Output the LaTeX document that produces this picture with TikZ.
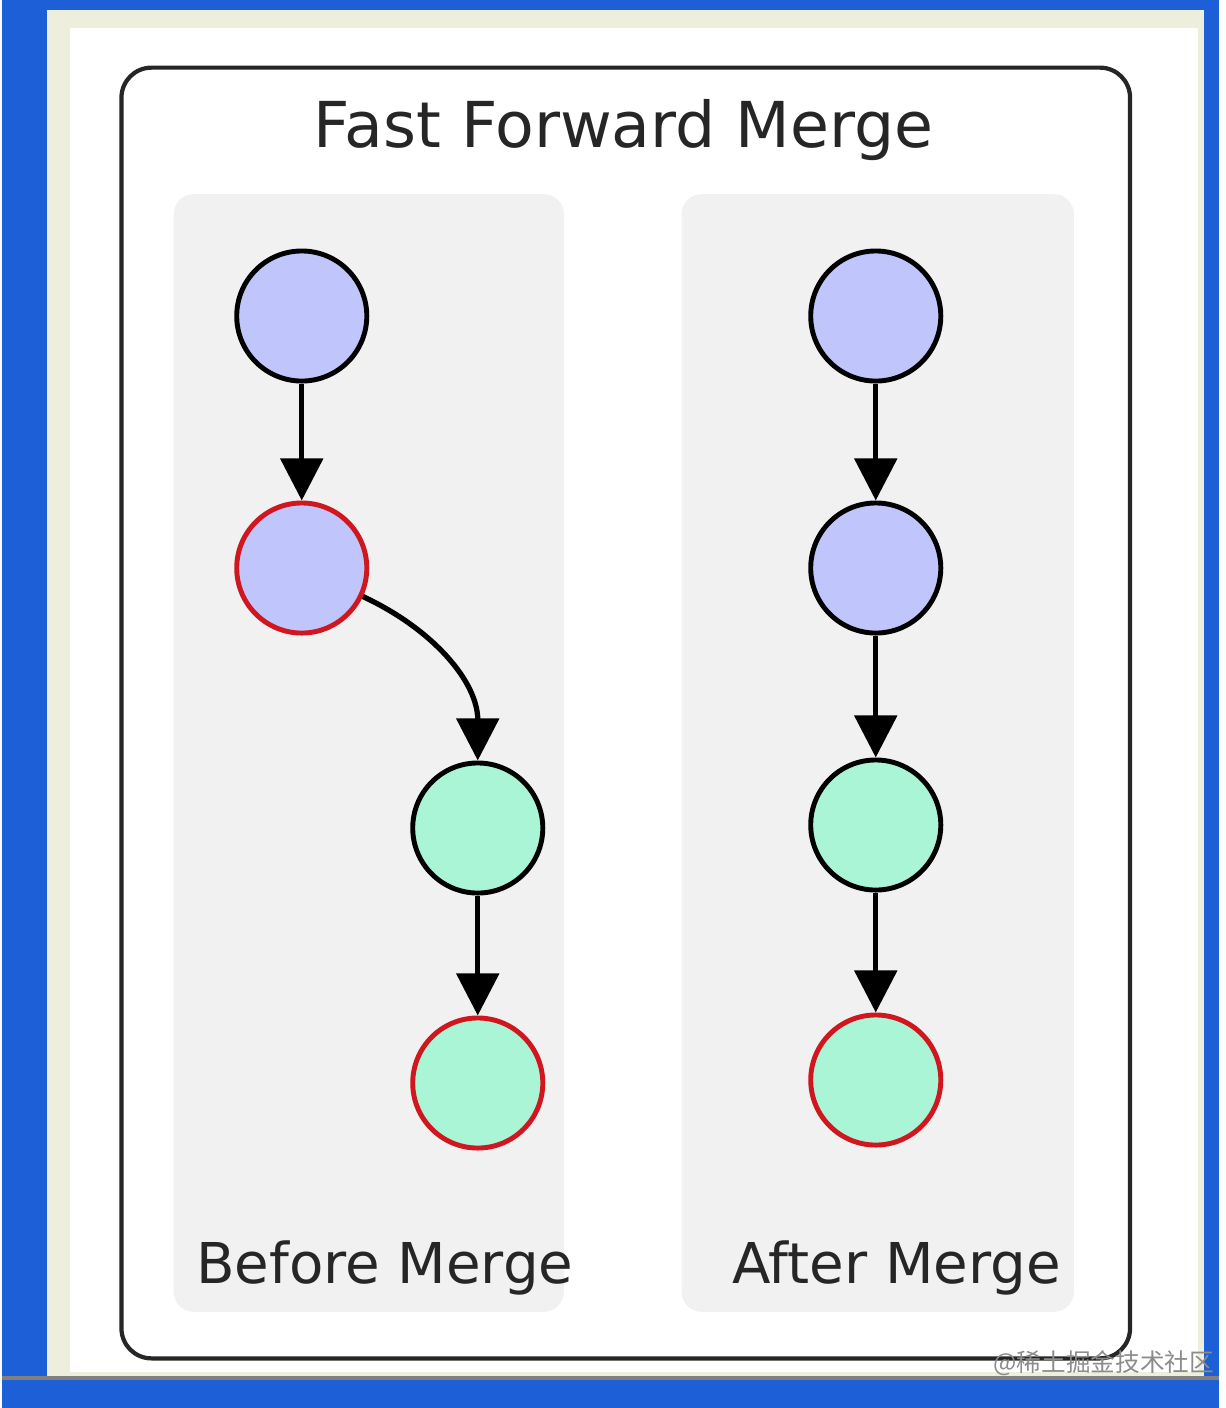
\documentclass[tikz,border=0pt]{standalone}
\usepackage{fontspec}
\setmainfont{DejaVu Sans}
\newfontfamily\cjk{Noto Sans CJK SC}
\usetikzlibrary{arrows.meta}
\definecolor{bgblue}{HTML}{1C5FD6}
\definecolor{nblue}{HTML}{C0C6FB}
\definecolor{ngreen}{HTML}{AAF5D6}
\definecolor{nred}{HTML}{D0161E}
\definecolor{panel}{HTML}{F1F1F1}
\definecolor{cream}{HTML}{EEEEDC}
\tikzset{
  commit/.style={circle,draw=black,line width=1.4pt,minimum size=1.3cm,inner sep=0pt},
  cur/.style={draw=nred},
  edge/.style={line width=1.5pt,-{Triangle[width=0.42cm,length=0.42cm]}},
  lbl/.style={font=\fontsize{16}{19}\selectfont,text=black!85}
}
\begin{document}
\begin{tikzpicture}[x=0.01cm,y=-0.01cm]
\fill[bgblue] (0,0) rectangle (1217,1408);
\fill[cream] (45,10) rectangle (1202,1378);
\fill[white] (68,28) rectangle (1196,1372);
\draw[black!50,line width=1pt] (0,1378) -- (1217,1378);
\node[draw=black!85,line width=1.2pt,rounded corners=0.3cm,minimum width=10.08cm,minimum height=12.9cm] (frame) at (624,713) {};
\node[font=\fontsize{18}{22}\selectfont,text=black!85] (title) at (622,130) {Fast Forward Merge};
\node[fill=panel,rounded corners=0.2cm,minimum width=3.9cm,minimum height=11.17cm] (pl) at (367,753) {};
\node[fill=panel,rounded corners=0.2cm,minimum width=3.92cm,minimum height=11.17cm] (pr) at (876,753) {};
\node[commit,fill=nblue] (a1) at (300,316) {};
\node[commit,fill=nblue,cur] (a2) at (300,568) {};
\node[commit,fill=ngreen] (a3) at (476,828) {};
\node[commit,fill=ngreen,cur] (a4) at (476,1083) {};
\node[commit,fill=nblue] (b1) at (874,316) {};
\node[commit,fill=nblue] (b2) at (874,568) {};
\node[commit,fill=ngreen] (b3) at (874,825) {};
\node[commit,fill=ngreen,cur] (b4) at (874,1080) {};
\draw[edge] (a1) -- (a2);
\draw[edge] (a2) to[out=-25,in=90] (a3);
\draw[edge] (a3) -- (a4);
\draw[edge] (b1) -- (b2);
\draw[edge] (b2) -- (b3);
\draw[edge] (b3) -- (b4);
\node[lbl] (lb) at (383,1268) {Before Merge};
\node[lbl] (la) at (895,1268) {After Merge};
\node[font=\cjk\fontsize{7}{8}\selectfont,text=black!45] (wm) at (1102,1363) {@稀土掘金技术社区};
\end{tikzpicture}
\end{document}
